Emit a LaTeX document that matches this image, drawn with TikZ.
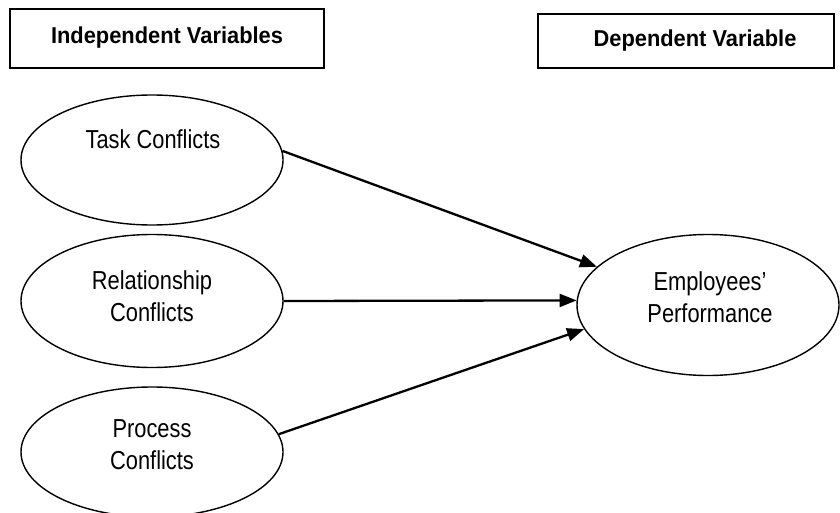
\documentclass[tikz,border=0pt]{standalone}
\usepackage{fontspec}
\setmainfont{Liberation Sans}[FakeStretch=0.84,BoldFeatures={FakeStretch=0.95}]
\usetikzlibrary{arrows.meta,shapes.geometric}
\begin{document}
\begin{tikzpicture}[x=1pt,y=-1pt,
  headbox/.style={line width=1.8pt},
  headtext/.style={font=\fontsize{23}{27}\selectfont\bfseries},
  varell/.style={draw,ellipse,line width=1.4pt,inner sep=0pt,minimum width=262pt,minimum height=130pt},
  vartext/.style={align=center,font=\fontsize{26}{32}\selectfont},
  link/.style={line width=2.3pt,-{Triangle[length=17pt,width=13pt]}}]
\useasboundingbox (0,0) rectangle (840,513);
% heading boxes
\draw[headbox] (10,9) rectangle (324,68);
\node[headtext] (indep) at (167,38) {Independent Variables};
\draw[headbox] (538,14) rectangle (834,68);
\node[headtext] (dep) at (695,41) {Dependent Variable};
% variable ellipses
\node[varell] (task) at (152,160) {};
\node[varell,minimum height=133pt] (rel) at (152,301) {};
\node[varell] (proc) at (152,452) {};
\node[varell,minimum height=141pt] (perf) at (708,305) {};
% labels
\node[vartext] (tasklbl) at (153,139) {Task Conflicts};
\node[vartext] (rellbl) at (152,296) {Relationship\\Conflicts};
\node[vartext] (proclbl) at (152,445) {Process\\Conflicts};
\node[vartext] (perflbl) at (710,297) {Employees’\\Performance};
% connectors
\draw[link] (task.4) -- (perf.161);
\draw[link] (rel.east) -- (perf.178);
\draw[link] (proc.8) -- (perf.191);
\end{tikzpicture}
\end{document}
